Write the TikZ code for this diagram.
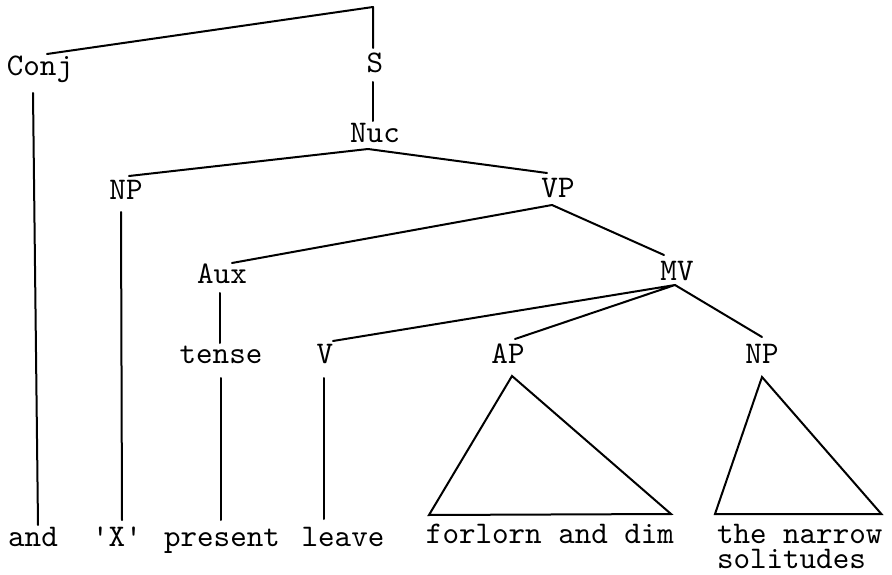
\documentclass[tikz,border=0pt]{standalone}
\usepackage{fontspec}
\newfontfamily\tw{lmmono10-regular}[Extension=.otf, Ligatures=TeXOff]
\begin{document}
\begin{tikzpicture}[x=1pt,y=-1pt,
  lbl/.style={font=\tw\fontsize{31.5}{25}\selectfont, inner sep=0pt, outer xsep=0pt, outer ysep=4pt,
    text height=18pt, text depth=6pt, anchor=base},
  edge/.style={line width=2pt, line cap=round, line join=round}]
\useasboundingbox (0,0) rectangle (892,575);
% labels
\node[lbl] (conj) at (40,76) {Conj};
\node[lbl] (s) at (375,73) {S};
\node[lbl] (nuc) at (375,143) {Nuc};
\node[lbl] (np1) at (126,200) {NP};
\node[lbl] (vp) at (558,197) {VP};
\node[lbl] (aux) at (222,283) {Aux};
\node[lbl] (mv) at (677,280) {MV};
\node[lbl] (tense) at (221,363) {tense};
\node[lbl] (v) at (325,363) {V};
\node[lbl] (ap) at (508,363) {AP};
\node[lbl] (np2) at (762,363) {NP};
\node[lbl] (and) at (33,546) {and};
\node[lbl] (x) at (117,546) {'X'};
\node[lbl] (present) at (222,546) {present};
\node[lbl] (leave) at (343,546) {leave};
\node[lbl] (forlorn) at (550,543) {forlorn and dim};
\node[lbl, anchor=base west] (narrow) at (717,543) {the narrow};
\node[lbl, anchor=base west, text height=14pt, outer ysep=0pt] (solit) at (717,568) {solitudes};
% connectors
\coordinate (top) at (373,7);
\draw[edge] ([xshift=7pt]conj.north) -- (top) -- ([xshift=-2pt,yshift=3pt]s.north);
\draw[edge] ([xshift=-2pt,yshift=1pt]s.south) -- ([xshift=-2pt]nuc.north);
\coordinate (nucb) at ([xshift=-7pt,yshift=4pt]nuc.south);
\draw[edge] ([xshift=3pt,yshift=2pt]np1.north) -- (nucb) -- ([xshift=-11pt,yshift=2pt]vp.north);
\draw[edge] ([xshift=-5pt,yshift=-2pt]np1.south) -- ([xshift=5pt,yshift=4pt]x.north);
\coordinate (vpb) at ([xshift=-6pt,yshift=2pt]vp.south);
\draw[edge] ([xshift=10pt,yshift=-2pt]aux.north) -- (vpb) -- ([xshift=-13pt,yshift=3pt]mv.north);
\draw[edge] ([xshift=-2pt]aux.south) -- ([xshift=-1pt,yshift=-2pt]tense.north);
\draw[edge] ([yshift=-5pt]tense.south) -- ([xshift=-1pt,yshift=4pt]present.north);
\coordinate (mvb) at ([xshift=-2pt,yshift=5pt]mv.south);
\draw[edge] ([xshift=8pt]v.north) -- (mvb) -- ([xshift=7pt,yshift=2pt]ap.north);
\draw[edge] (mvb) -- ([yshift=4pt]np2.north);
\draw[edge] ([xshift=-1pt,yshift=-5pt]v.south) -- ([xshift=-19pt,yshift=5pt]leave.north);
\draw[edge] ([xshift=-7pt,yshift=-7pt]conj.south) -- ([xshift=5pt,yshift=-1pt]and.north);
% triangles
\draw[edge, line join=miter] ([xshift=4pt,yshift=-3pt]ap.south) -- ([xshift=3pt,yshift=6pt]forlorn.north west)
  -- ([xshift=-3pt,yshift=7pt]forlorn.north east) -- cycle;
\draw[edge, line join=miter] ([yshift=-4pt]np2.south) -- ([xshift=-2pt,yshift=7pt]narrow.north west)
  -- ([xshift=-1pt,yshift=7pt]narrow.north east) -- cycle;
\end{tikzpicture}
\end{document}
